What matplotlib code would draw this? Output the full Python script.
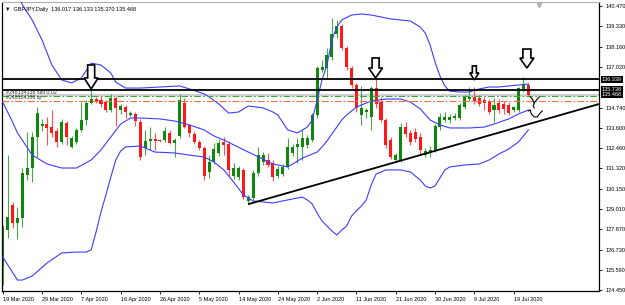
#!/usr/bin/env python3
"""GBPJPY daily, MT4 style: candles, Bollinger bands, order lines, trendline."""
import matplotlib
matplotlib.use("Agg")
import matplotlib.pyplot as plt  # noqa: E402
import matplotlib.transforms as mtransforms  # noqa: E402
from matplotlib.patches import Polygon  # noqa: E402

plt.rcParams["font.family"] = ["Liberation Sans", "DejaVu Sans"]

W, H, DPI = 625, 305, 100

# daily bars, bar 0 = 19 Mar 2020 (broker prints Sunday candles)
opens = [125.75, 127.83, 129.24, 128.23, 128.51, 130.94, 131.33, 133.08, 133.70, 133.81,
         133.64, 133.42, 132.80, 133.87, 132.52, 132.80, 133.48, 134.04, 135.00, 135.22,
         135.17, 135.05, 134.60, 135.28, 134.60, 134.77, 134.32, 134.38, 133.93, 132.46,
         132.85, 132.97, 132.91, 132.91, 133.31, 132.74, 133.14, 135.00, 133.76, 133.25,
         132.80, 132.46, 131.11, 131.67, 132.18, 132.80, 132.69, 130.88, 130.82, 131.22,
         129.47, 129.64, 131.05, 131.67, 131.78, 131.61, 130.88, 130.99, 131.39, 132.18,
         132.52, 132.52, 132.63, 132.91, 134.32, 136.86, 136.97, 137.59, 138.89, 139.34,
         138.10, 136.97, 136.01, 134.32, 134.49, 134.21, 135.84, 135.05, 134.04, 132.91,
         131.78, 131.78, 133.64, 133.31, 133.36, 133.08, 132.06, 132.18, 132.35, 133.64,
         134.04, 134.04, 134.15, 134.15, 134.77, 135.22, 135.34, 135.28, 135.17, 135.11,
         134.60, 135.00, 134.94, 134.89, 134.60, 134.60, 135.73, 136.017]
highs = [128.12, 132.06, 129.41, 129.13, 131.33, 133.36, 133.36, 134.77, 134.10, 134.21,
         134.60, 133.59, 134.10, 133.98, 133.14, 133.59, 135.05, 135.17, 135.79, 135.34,
         135.39, 135.17, 135.50, 135.39, 134.94, 134.89, 134.55, 134.49, 134.10, 133.48,
         133.64, 133.31, 132.97, 133.64, 133.48, 133.02, 135.50, 135.28, 133.81, 133.42,
         132.91, 132.57, 132.06, 132.74, 132.97, 133.08, 132.85, 131.61, 131.44, 131.33,
         129.81, 131.22, 132.52, 132.23, 132.18, 131.78, 131.44, 131.56, 133.02, 132.69,
         133.02, 133.48, 133.19, 134.43, 137.09, 137.42, 138.10, 139.79, 139.68, 139.45,
         138.21, 137.09, 136.13, 135.96, 134.72, 135.96, 136.41, 135.34, 134.15, 133.08,
         132.18, 133.87, 133.93, 133.48, 133.59, 133.31, 132.46, 132.57, 133.81, 134.43,
         134.49, 134.38, 134.43, 135.00, 135.45, 135.90, 135.90, 135.45, 135.34, 135.22,
         135.28, 135.22, 135.11, 135.05, 134.83, 135.90, 136.47, 136.133]
lows = [124.73, 127.38, 127.95, 127.33, 128.00, 130.65, 130.54, 131.95, 133.42, 132.63,
        133.08, 132.52, 132.69, 132.63, 132.46, 132.69, 133.36, 133.76, 134.94, 135.00,
        134.77, 134.49, 134.49, 133.70, 134.38, 134.15, 134.26, 133.70, 131.78, 132.06,
        132.35, 132.35, 132.80, 132.80, 132.69, 131.95, 133.02, 133.59, 133.08, 132.69,
        132.35, 130.65, 130.77, 131.56, 132.01, 132.06, 130.88, 130.71, 130.65, 129.58,
        129.36, 129.53, 130.88, 131.50, 131.39, 130.60, 130.77, 130.88, 131.27, 132.01,
        131.61, 131.78, 132.46, 132.80, 134.15, 136.75, 136.41, 137.42, 138.66, 137.99,
        136.86, 135.84, 134.49, 133.76, 134.15, 133.48, 134.72, 133.93, 132.46, 131.84,
        131.67, 131.67, 133.08, 132.63, 132.80, 132.06, 131.95, 131.95, 132.23, 133.48,
        133.93, 133.87, 134.04, 134.04, 134.66, 135.11, 134.94, 134.83, 134.60, 134.38,
        133.93, 134.43, 134.38, 134.32, 134.49, 134.49, 135.62, 135.370]
closes = [127.95, 128.57, 128.23, 128.51, 131.05, 131.33, 133.08, 134.43, 133.81, 133.59,
          133.31, 132.80, 133.93, 133.08, 133.02, 133.48, 134.04, 135.00, 135.22, 135.11,
          134.94, 134.60, 135.28, 134.72, 134.83, 134.49, 134.43, 133.98, 131.95, 132.85,
          132.97, 132.85, 132.85, 133.42, 132.74, 132.91, 135.17, 133.64, 133.31, 132.80,
          132.46, 130.88, 131.67, 132.40, 132.74, 132.63, 131.22, 131.33, 131.33, 129.70,
          129.70, 131.05, 132.06, 132.06, 131.50, 130.82, 131.27, 131.39, 132.52, 132.52,
          132.69, 133.02, 133.02, 134.32, 136.97, 137.03, 137.71, 138.89, 139.34, 138.10,
          137.03, 136.01, 134.72, 134.72, 134.60, 135.84, 134.94, 134.04, 132.63, 131.95,
          132.06, 133.64, 133.25, 132.80, 132.97, 132.35, 132.29, 132.35, 133.70, 134.21,
          134.21, 134.21, 134.26, 134.89, 135.34, 135.34, 135.11, 134.94, 135.00, 134.49,
          134.89, 134.60, 134.66, 134.43, 134.77, 135.84, 136.00, 135.468]

tick_bars = [0, 8, 16, 24, 32, 40, 48, 56, 64, 72, 80, 88, 96, 104]
tick_labels = ["19 Mar 2020", "29 Mar 2020", "7 Apr 2020", "16 Apr 2020", "26 Apr 2020",
               "5 May 2020", "14 May 2020", "24 May 2020", "2 Jun 2020", "11 Jun 2020",
               "21 Jun 2020", "30 Jun 2020", "9 Jul 2020", "19 Jul 2020"]
price_ticks = [140.470, 139.330, 138.160, 137.020, 134.740, 133.600, 132.460, 131.320,
               130.150, 129.010, 127.870, 126.730, 125.590, 124.450]

# Bollinger bands at these bars
bb_up_bars = [0, 2, 4, 6, 8, 10, 12, 14, 16, 18, 20, 22, 23, 25, 28, 32, 36, 38, 41, 42,
              44, 46, 48, 50, 53, 55, 56, 58, 60, 62, 63, 64, 65, 66, 67, 68, 69, 71, 73, 75,
              77, 79, 81, 83, 85, 86, 87, 88, 89, 90, 91, 93, 95, 97, 99, 101, 103, 105, 107]
bb_up = [143.80, 142.30, 140.53, 139.68, 138.55, 137.14, 136.30, 136.13, 136.41, 137.25,
         137.14, 136.69, 136.18, 135.84, 135.84, 135.90, 135.96, 135.79, 135.51, 135.34,
         134.94, 134.43, 134.49, 134.83, 134.72, 134.49, 134.32, 133.48, 133.31, 133.64,
         134.04, 135.17, 136.30, 137.14, 138.55, 139.28, 139.68, 139.96, 140.02, 139.96,
         139.85, 139.74, 139.68, 139.62, 139.28, 138.95, 138.27, 137.31, 136.52, 135.96,
         135.67, 135.62, 135.62, 135.79, 135.90, 135.90, 135.96, 136.01, 136.07]
bb_mid_bars = [0, 2, 3, 6, 9, 12, 15, 18, 20, 22, 24, 26, 28, 32, 35, 38, 41, 43, 45, 50,
               55, 58, 61, 64, 65, 66, 67, 68, 69, 70, 72, 75, 78, 81, 83, 85, 87, 89, 91,
               95, 98, 100, 103, 105, 107]
bb_mid = [135.05, 133.93, 133.31, 132.06, 131.56, 131.33, 131.33, 131.78, 132.35, 133.08,
          133.81, 134.15, 134.15, 134.10, 133.98, 133.76, 133.48, 133.14, 132.91, 132.23,
          131.56, 131.39, 131.89, 132.23, 132.52, 132.85, 133.25, 133.64, 134.04, 134.32,
          134.77, 135.11, 135.22, 135.22, 135.05, 134.66, 134.04, 133.76, 133.59, 133.59,
          133.64, 133.81, 134.10, 134.38, 134.60]
bb_low_bars = [0, 3, 4, 6, 9, 12, 15, 17, 18, 19, 20, 21, 22, 23, 24, 25, 28, 31, 35, 38,
               41, 43, 45, 47, 49, 51, 55, 58, 61, 62, 63, 64, 65, 66, 67, 68, 69, 70, 71,
               72, 73, 74, 75, 76, 78, 81, 83, 85, 86, 87, 88, 89, 90, 91, 94, 97, 99, 101,
               103, 105, 107]
bb_low = [126.31, 125.01, 125.01, 125.24, 125.97, 126.54, 126.59, 126.59, 126.71, 127.72,
          128.85, 129.81, 130.82, 131.78, 132.29, 132.52, 132.57, 132.23, 132.18, 132.06,
          131.95, 131.67, 131.22, 130.54, 129.81, 129.47, 129.36, 129.53, 129.69, 129.53,
          129.30, 128.79, 128.34, 128.06, 127.78, 127.55, 127.83, 128.06, 128.62, 128.91,
          129.19, 129.53, 130.37, 130.99, 131.22, 131.22, 131.11, 130.65, 130.32, 130.20,
          130.32, 130.77, 131.22, 131.39, 131.50, 131.56, 131.78, 132.12, 132.40, 132.80,
          133.48]

level_lines = [136.339, 135.738]
bid = 135.468
sell_price = 135.37
tp_price = 135.11
trend_bars = [50.1, 121.5]
trend_prices = [129.30, 134.95]

# hollow "down" arrows: (bar, price of the tip, shape height/head/half widths in px)
arrow_bars = [18.0, 75.9, 96.0, 106.7]
arrow_tips = [135.79, 136.41, 136.30, 136.97]
arrow_sizes = [(24, 11, 7, 3.5), (20, 10, 7, 3.5), (14, 7, 4.5, 2.0), (19, 10, 7, 4.0)]

GREEN, RED, BLUE = "#0f870f", "#ff1818", "#3d3dff"

fig = plt.figure(figsize=(W / DPI, H / DPI), dpi=DPI)
fig.patch.set_facecolor("white")
ax = fig.add_axes([2 / W, 14 / H, 597 / W, 289 / H])

xs = list(range(len(opens)))
up = [c >= o for o, c in zip(opens, closes)]
cols = [GREEN if u else RED for u in up]
bottoms = [min(o, c) for o, c in zip(opens, closes)]
heights = [max(abs(c - o), 0.035) for o, c in zip(opens, closes)]
ax.vlines(xs, lows, highs, colors=cols, lw=0.8, alpha=0.75, zorder=2)
ax.bar(xs, heights, bottom=bottoms, width=0.62, color=cols, lw=0, zorder=2.5)

for bx, by in [(bb_up_bars, bb_up), (bb_mid_bars, bb_mid), (bb_low_bars, bb_low)]:
    ax.plot(bx, by, color=BLUE, lw=0.8, zorder=3)

ax.axhline(bid, color="#c8c8c8", lw=1.2, zorder=1)
for p in level_lines:
    ax.axhline(p, color="black", lw=1.3, zorder=4)
dashdot = (0, (6, 2, 1.5, 2))
ax.axhline(sell_price, color="#3aa83a", lw=0.8, ls=dashdot, zorder=4)
ax.axhline(tp_price, color="#ff6a3d", lw=0.8, ls=dashdot, zorder=4)
ax.plot(trend_bars, trend_prices, color="black", lw=1.3, zorder=4)

blend = mtransforms.blended_transform_factory(ax.transAxes, ax.transData)
ax.text(0.006, sell_price + 0.09, "#248134136 sell 0.02", transform=blend, fontsize=3.8,
        color="#333333", va="bottom", ha="left", zorder=5)
ax.text(0.006, tp_price + 0.07, "#248134136 tp", transform=blend, fontsize=3.8,
        color="#333333", va="bottom", ha="left", zorder=5)


def at_px(bar, price):
    # pixel offsets around a (bar, price) anchor
    return mtransforms.Affine2D() + mtransforms.ScaledTranslation(bar, price, ax.transData)


for b, p, (h, hh, hw, sw) in zip(arrow_bars, arrow_tips, arrow_sizes):
    pts = [(0, 0), (-hw, hh), (-sw, hh), (-sw, h), (sw, h), (sw, hh), (hw, hh)]
    ax.add_patch(Polygon(pts, closed=True, transform=at_px(b, p), fc="white",
                         ec="black", lw=1.2, zorder=6))

# hand-drawn squiggle right of the last candle
sq = at_px(108.2, 135.17)
ax.plot([-4, -2, 0, 3, 5], [3, 1, -3, 1, 3], color="black", lw=0.8, transform=sq, zorder=6)
ax.plot([0, -1, 0], [-3, -6, -8], color="black", lw=0.8, transform=sq, zorder=6)
ax.plot([-6, -4, -3, 0, 3, 6, 8], [-11, -10, -14, -17, -17, -13, -11], color="black",
        lw=0.8, transform=sq, zorder=6)
ax.plot([109.1], [140.55], marker="v", ms=3, color="#b0b0b0", clip_on=False, zorder=6)

ax.set_xlim(-0.15, -0.15 + 597 / 4.9125)
ax.set_ylim(124.393, 140.695)

ax.yaxis.tick_right()
ax.set_yticks(price_ticks)
ax.set_yticklabels([f"{v:.3f}" for v in price_ticks])
ax.tick_params(axis="y", labelsize=4, length=2.5, width=0.6, pad=2)
ax.set_xticks(tick_bars)
ax.set_xticklabels(tick_labels, ha="left")
ax.tick_params(axis="x", labelsize=4, length=2.5, width=0.6, pad=1.5)

for p in level_lines + [bid]:
    ax.text(1.005, p, f"{p:.3f}", transform=blend, fontsize=4, color="white",
            va="center", ha="left", clip_on=False,
            bbox=dict(boxstyle="square,pad=0.2", fc="black", ec="none"))

for side in ("left", "bottom", "right"):
    ax.spines[side].set_color("black")
    ax.spines[side].set_linewidth(0.9)
ax.spines["top"].set_color("#b0b0b0")

fig.text(5 / W, 1 - 10 / H, "\u25bc  GBPJPY,Daily  136.017 136.133 135.370 135.468",
         fontsize=4, va="center", ha="left")

fig.savefig("out.png", dpi=DPI, facecolor="white")
